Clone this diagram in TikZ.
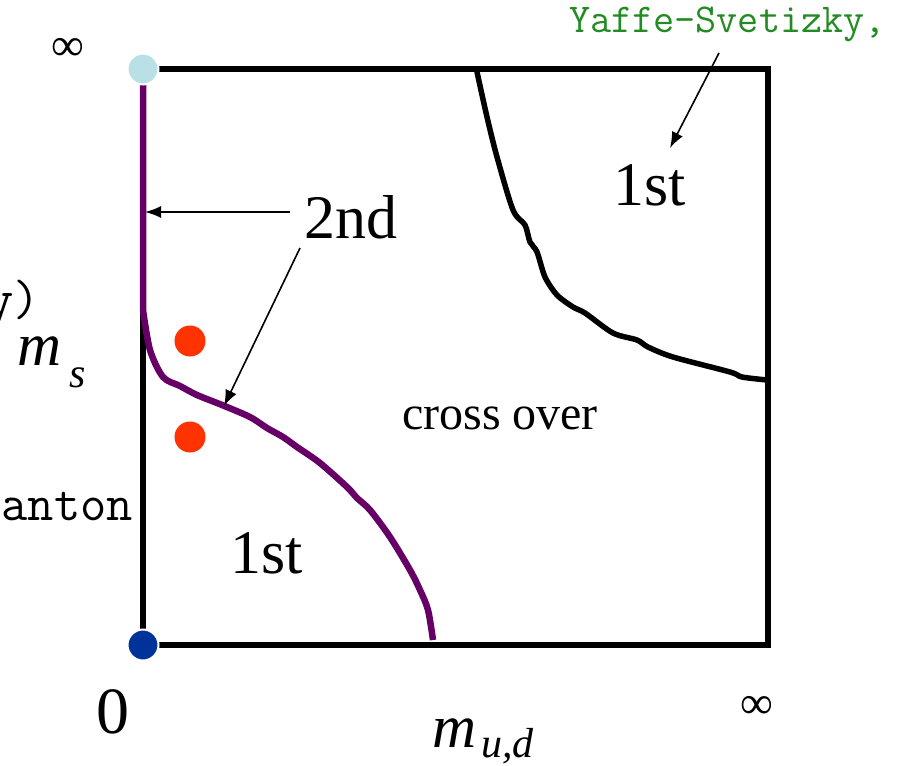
\documentclass[tikz,border=0pt]{standalone}
\usepackage{fontspec}
\setmainfont{Liberation Serif}
\usetikzlibrary{arrows.meta}
\definecolor{lblue}{RGB}{185,224,228}
\definecolor{dblue}{RGB}{0,51,153}
\definecolor{redorange}{RGB}{255,51,0}
\definecolor{purp}{RGB}{102,0,102}
\definecolor{refgreen}{RGB}{34,139,34}
\begin{document}
\begin{tikzpicture}[x=1pt,y=-1pt,
  txt/.style={inner sep=0pt,outer sep=0pt,anchor=base},
  big/.style={txt,font=\fontsize{62}{70}\selectfont},
  mid/.style={txt,font=\fontsize{48}{54}\selectfont},
  mono/.style={txt,font=\fontsize{51}{58}\selectfont\ttfamily},
  boxline/.style={line width=5.5pt,line cap=butt,line join=miter},
  purpline/.style={line width=6.5pt,color=purp,line join=round},
  blkcurve/.style={line width=5.5pt,line join=round,line cap=round},
  ptr/.style={line width=1.6pt,-{Latex[length=16pt,width=12pt]}},
  dot/.style={circle,minimum size=31pt,inner sep=0pt,draw=white,line width=2pt}
]
\useasboundingbox (0,0) rectangle (901,765);

% frame
\draw[boxline] (143,310) -- (143,645) -- (768,645) -- (768,69) -- (143,69);

% purple critical line (2nd order) and 1st-order boundary
\draw[purpline] (143,85) -- (143,310)
  plot[smooth,tension=0.5] coordinates {(143,310) (150,350) (163,377) (180,386) (197,395) (222,405) (250,417) (267,428) (283,437) (297,447) (320,463) (347,487) (357,498) (370,510) (390,537) (410,570) (420,590) (428,610) (433,640)};

% upper-right boundary
\draw[blkcurve] plot[smooth,tension=0.5] coordinates {(477,72) (487,117) (497,157) (513,210) (525,225) (530,242) (537,252) (545,277) (557,295) (573,307) (585,313) (613,333) (637,340) (648,347) (673,357) (730,372) (742,377) (767,380)};

% dots
\node[dot,fill=lblue] (topdot) at (143,69) {};
\node[dot,fill=dblue] (origin) at (143,645) {};
\node[dot,fill=redorange,draw=none] (red1) at (190,341) {};
\node[dot,fill=redorange,draw=none] (red2) at (190,437) {};

% labels
\node[big,anchor=base west] (second) at (304,238) {2nd};
\node[big,anchor=base west] (firstTR) at (613,205) {1st};
\node[big,anchor=base west] (firstBL) at (230,573) {1st};
\node[mid] (cross) at (500,429) {cross over};
\node[txt,font=\fontsize{66}{76}\selectfont] (zero) at (113,733) {0};
\node[txt,font=\fontsize{46}{54}\selectfont] (infTL) at (68,61) {∞};
\node[txt,font=\fontsize{46}{54}\selectfont] (infBR) at (757,718) {∞};

\node[txt,anchor=base west,font=\fontsize{61}{70}\selectfont\itshape] (ms) at (17,365) {m};
\node[txt,anchor=base west,font=\fontsize{42}{50}\selectfont\itshape] (mssub) at (69,387) {s};
\node[txt,anchor=base west,font=\fontsize{61}{70}\selectfont\itshape] (mud) at (432,747) {m};
\node[txt,anchor=base west,font=\fontsize{42}{50}\selectfont\itshape] (mudsub) at (481,757) {u,d};

\node[mono,anchor=base east] (gam) at (40,315) {y)};
\node[mono,anchor=base east] (inst) at (133,520) {anton};
\node[txt,anchor=base west,font=\fontsize{41}{48}\selectfont\ttfamily,text=refgreen] (ys) at (569,33) {Yaffe-Svetizky,};

% arrows
\coordinate (a1s) at (290,212);
\coordinate (a1e) at (145,212);
\coordinate (a2s) at (300,248);
\coordinate (a2e) at (224,406);
\coordinate (a3s) at (719,53);
\coordinate (a3e) at (670,148);
\draw[ptr] (a1s) -- (a1e);
\draw[ptr] (a2s) -- (a2e);
\draw[ptr] (a3s) -- (a3e);
\end{tikzpicture}
\end{document}
